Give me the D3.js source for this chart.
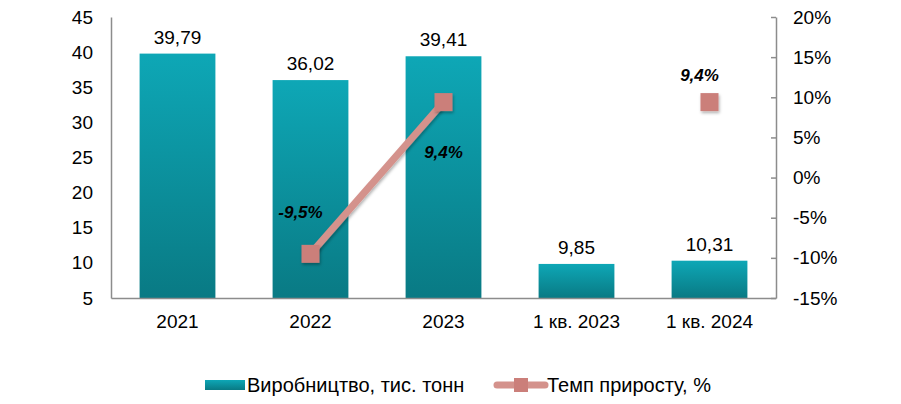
<!DOCTYPE html>
<html><head><meta charset="utf-8">
<script src="https://cdn.jsdelivr.net/npm/d3@7"></script>
<style>body{margin:0;background:#fff}text{font-family:Arial,"Liberation Sans",sans-serif}</style>
</head><body>
<svg id="c" width="901" height="404"></svg>
<script>
const categories = ["2021","2022","2023","1 кв. 2023","1 кв. 2024"];
const production = [39.79, 36.02, 39.41, 9.85, 10.31];
const productionLabels = ["39,79","36,02","39,41","9,85","10,31"];
const growth = [null, -9.5, 9.4, null, 9.4];
const growthLabels = [null, "-9,5%", "9,4%", null, "9,4%"];
const leftTicks = [5,10,15,20,25,30,35,40,45];
const rightTicks = [-15,-10,-5,0,5,10,15,20];

const FS = 19;
const svg = d3.select("#c");
const m = {l:111, r:776, t:17, b:298};
const x = d3.scaleBand().domain(categories).range([m.l, m.r]).paddingInner(0.43).paddingOuter(0.215);
const y = d3.scaleLinear().domain([5,45]).range([m.b, m.t]);
const y2 = d3.scaleLinear().domain([-15,20]).range([m.b, m.t]);

const defs = svg.append("defs");
const g = defs.append("linearGradient").attr("id","bg").attr("x1",0).attr("y1",0).attr("x2",0).attr("y2",1);
g.append("stop").attr("offset","0%").attr("stop-color","#0ea7b6");
g.append("stop").attr("offset","100%").attr("stop-color","#097a84");
const f = defs.append("filter").attr("id","sh").attr("x","-30%").attr("y","-30%").attr("width","160%").attr("height","160%");
f.append("feDropShadow").attr("dx",1).attr("dy",2).attr("stdDeviation",1.5).attr("flood-color","#000").attr("flood-opacity",0.3);

// bars
svg.selectAll("rect.bar").data(categories).enter().append("rect")
  .attr("x", d=>x(d)).attr("width", x.bandwidth())
  .attr("y", (d,i)=>y(production[i])).attr("height",(d,i)=>m.b - y(production[i]))
  .attr("fill","url(#bg)");

function styleText(sel){ sel.selectAll("text").attr("font-size",FS).attr("fill","#000").attr("font-family","Arial, Liberation Sans, sans-serif"); }

// left axis
const ax = svg.append("g").attr("transform",`translate(${m.l},0)`)
  .call(d3.axisLeft(y).tickValues(leftTicks).tickSize(0).tickPadding(18));
ax.select(".domain").attr("stroke","#8c8c8c").attr("stroke-width",1.5);
styleText(ax);

// right axis
const ar = svg.append("g").attr("transform",`translate(${m.r},0)`)
  .call(d3.axisRight(y2).tickValues(rightTicks).tickSize(0).tickPadding(17).tickFormat(d=>d+"%"));
ar.select(".domain").attr("stroke","#8c8c8c").attr("stroke-width",1.5);
ar.selectAll(".tick").append("line").attr("x1",-5).attr("x2",0).attr("stroke","#8c8c8c").attr("stroke-width",1.5);
styleText(ar);

// bottom axis
const ab = svg.append("g").attr("transform",`translate(0,${m.b})`)
  .call(d3.axisBottom(x).tickSize(0).tickPadding(17));
ab.select(".domain").attr("stroke","#8c8c8c").attr("stroke-width",1.5);
styleText(ab);

// bar labels
svg.selectAll("text.bl").data(categories).enter().append("text")
  .attr("x", d=>x(d)+x.bandwidth()/2).attr("y",(d,i)=>y(production[i])-10)
  .attr("text-anchor","middle").attr("font-size",FS).attr("fill","#000")
  .text((d,i)=>productionLabels[i]);

// line
const cx = d=>x(d)+x.bandwidth()/2;
const line = d3.line().defined((d,i)=>growth[i]!==null).x(d=>cx(d)).y((d,i)=>y2(growth[i]));
svg.append("path").datum(categories).attr("d",line).attr("fill","none")
  .attr("stroke","#d4928c").attr("stroke-width",7).attr("filter","url(#sh)");
const pts = categories.map((c,i)=>({c,i})).filter(p=>growth[p.i]!==null);
svg.selectAll("rect.mk").data(pts).enter().append("rect")
  .attr("x",p=>cx(p.c)-9).attr("y",p=>y2(growth[p.i])-9).attr("width",18).attr("height",18)
  .attr("fill","#cb7f7a").attr("filter","url(#sh)");

// line labels
const off = {1:[-10,-36], 2:[0,56], 4:[-10,-21]};
svg.selectAll("text.ll").data(pts).enter().append("text")
  .attr("x",p=>cx(p.c)+off[p.i][0]).attr("y",p=>y2(growth[p.i])+off[p.i][1])
  .attr("text-anchor","middle").attr("font-size",17).attr("font-weight","bold").attr("font-style","italic")
  .attr("fill","#000").text(p=>growthLabels[p.i]);

// legend
const lg = svg.append("g");
lg.append("rect").attr("x",205).attr("y",380).attr("width",40).attr("height",10).attr("fill","url(#bg)");
lg.append("text").attr("x",247).attr("y",392).attr("font-size",FS+1).text("Виробництво, тис. тонн");
lg.append("line").attr("x1",497).attr("x2",545).attr("y1",385).attr("y2",385).attr("stroke","#d4928c").attr("stroke-width",7).attr("stroke-linecap","round");
lg.append("rect").attr("x",514).attr("y",378).attr("width",14).attr("height",14).attr("fill","#cb7f7a");
lg.append("text").attr("x",547).attr("y",392).attr("font-size",FS+1).text("Темп приросту, %");
</script>
</body></html>
